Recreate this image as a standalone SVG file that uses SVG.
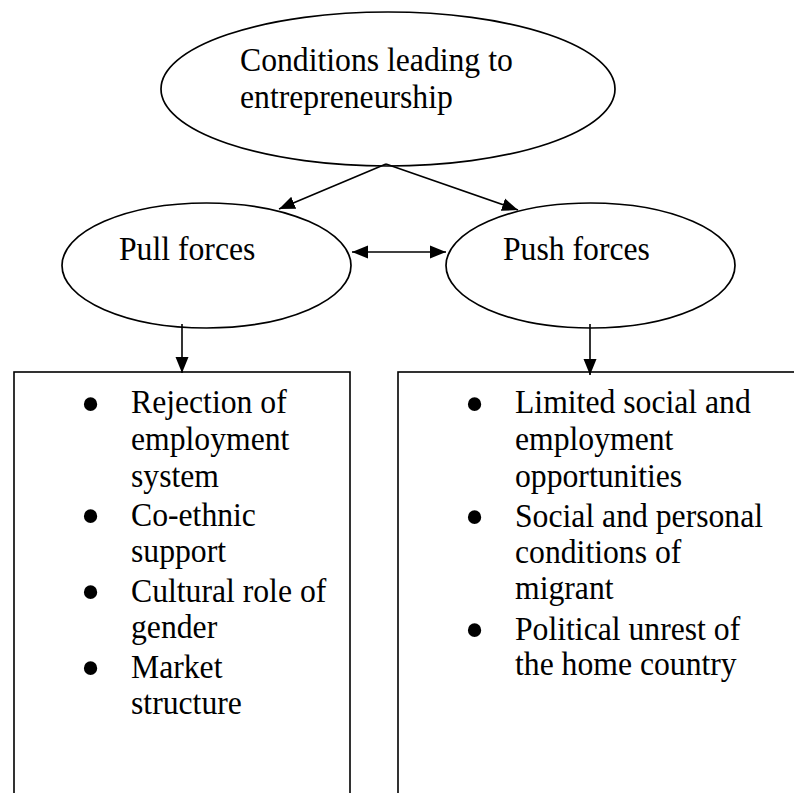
<svg xmlns="http://www.w3.org/2000/svg" width="794" height="793" viewBox="0 0 794 793">
  <style>
    .shape { fill: #fff; stroke: #000; stroke-width: 1.7; }
    .box { fill: #fff; stroke: #000; stroke-width: 1.6; }
    .label { font-family: "Liberation Serif", "Times New Roman", serif; font-size: 33.5px; fill: #000; }
    .bullet { font-family: "Liberation Serif", "Times New Roman", serif; font-size: 56px; fill: #000; text-anchor: middle; }
    .edge { stroke: #000; stroke-width: 1.6; fill: none; }
  </style>
  <defs>
    <marker id="arrow-end" markerUnits="userSpaceOnUse" markerWidth="17" markerHeight="14" refX="16" refY="7" orient="auto">
      <path d="M0,0.5 L16,7 L0,13.5 Z" fill="#000"/>
    </marker>
    <marker id="arrow-start" markerUnits="userSpaceOnUse" markerWidth="17" markerHeight="14" refX="0" refY="7" orient="auto">
      <path d="M16,0.5 L0,7 L16,13.5 Z" fill="#000"/>
    </marker>
  </defs>

  <rect width="794" height="793" fill="#fff"/>

  <!-- root concept -->
  <g id="conditions">
    <ellipse class="shape" cx="388" cy="89" rx="227" ry="77"/>
    <g transform="translate(240 0) scale(0.946 1)">
      <text class="label" x="0" y="71">Conditions leading to</text>
      <text class="label" x="0" y="108">entrepreneurship</text>
    </g>
  </g>

  <!-- pull side -->
  <g id="pull-forces">
    <ellipse class="shape" cx="206.5" cy="265.5" rx="144.5" ry="62.5"/>
    <g transform="translate(119 0) scale(0.946 1)">
      <text class="label" x="0" y="260">Pull forces</text>
    </g>
  </g>

  <!-- push side -->
  <g id="push-forces">
    <ellipse class="shape" cx="590.5" cy="265.5" rx="144.5" ry="62.5"/>
    <g transform="translate(503 0) scale(0.946 1)">
      <text class="label" x="0" y="260">Push forces</text>
    </g>
  </g>

  <!-- pull factors list -->
  <g id="pull-list">
    <rect class="box" x="14" y="372" width="336" height="440"/>
    <text class="bullet" x="90.5" y="422.5">•</text>
    <text class="bullet" x="90.5" y="535">•</text>
    <text class="bullet" x="90.5" y="611">•</text>
    <text class="bullet" x="90.5" y="687">•</text>
    <g transform="translate(131 0) scale(0.946 1)">
      <text class="label" x="0" y="413">Rejection of</text>
      <text class="label" x="0" y="450">employment</text>
      <text class="label" x="0" y="487">system</text>
      <text class="label" x="0" y="526">Co-ethnic</text>
      <text class="label" x="0" y="562">support</text>
      <text class="label" x="0" y="602">Cultural role of</text>
      <text class="label" x="0" y="638">gender</text>
      <text class="label" x="0" y="678">Market</text>
      <text class="label" x="0" y="714">structure</text>
    </g>
  </g>

  <!-- push factors list -->
  <g id="push-list">
    <rect class="box" x="398" y="372" width="420" height="440"/>
    <text class="bullet" x="474.5" y="422.5">•</text>
    <text class="bullet" x="474.5" y="536">•</text>
    <text class="bullet" x="474.5" y="649">•</text>
    <g transform="translate(515 0) scale(0.946 1)">
      <text class="label" x="0" y="413">Limited social and</text>
      <text class="label" x="0" y="450">employment</text>
      <text class="label" x="0" y="487">opportunities</text>
      <text class="label" x="0" y="527">Social and personal</text>
      <text class="label" x="0" y="563">conditions of</text>
      <text class="label" x="0" y="599">migrant</text>
      <text class="label" x="0" y="640">Political unrest of</text>
      <text class="label" x="0" y="675">the home country</text>
    </g>
  </g>

  <!-- connectors -->
  <g id="connectors">
    <line class="edge" x1="386" y1="164" x2="279" y2="209" marker-end="url(#arrow-end)"/>
    <line class="edge" x1="386" y1="164" x2="518" y2="210" marker-end="url(#arrow-end)"/>
    <line class="edge" x1="352" y1="252" x2="446" y2="252" marker-start="url(#arrow-start)" marker-end="url(#arrow-end)"/>
    <line class="edge" x1="182" y1="324" x2="182" y2="373" marker-end="url(#arrow-end)"/>
    <line class="edge" x1="590" y1="324" x2="590" y2="375" marker-end="url(#arrow-end)"/>
  </g>
</svg>
